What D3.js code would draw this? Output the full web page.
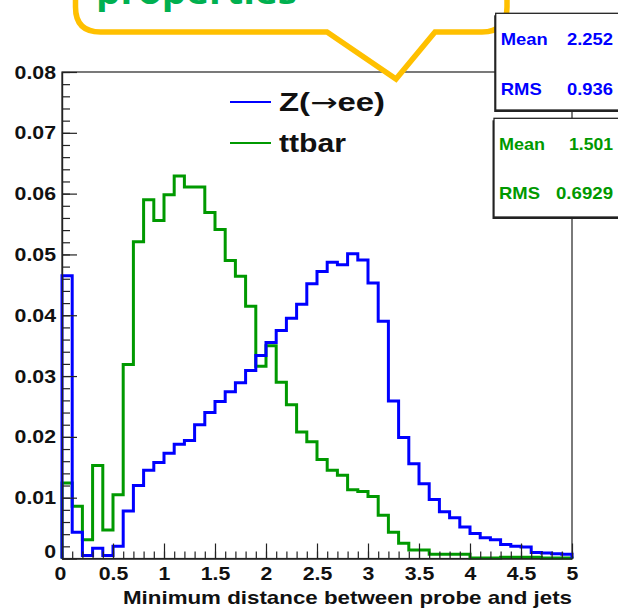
<!DOCTYPE html>
<html><head><meta charset="utf-8">
<script src="https://cdn.jsdelivr.net/npm/d3@7"></script>
<style>
html,body{margin:0;padding:0;background:#fff;}
svg{display:block;font-family:"Liberation Sans",Arial,sans-serif;}
</style></head>
<body>
<svg id="chart" width="618" height="612"></svg>
<script>
// ---------- data ----------
const binEdgesStart = 0, binWidth = 0.1;
const zeeValues = [0.0465,0.0043,0.0005,0.0017,0.0005,0.002,0.0078,0.012,0.0145,0.0158,
  0.0173,0.0188,0.0194,0.022,0.024,0.0258,0.0274,0.0289,0.0309,0.0334,
  0.0355,0.0375,0.0395,0.0418,0.0452,0.0472,0.0487,0.0483,0.0501,0.0491,
  0.0453,0.039,0.0259,0.0199,0.0156,0.0123,0.0097,0.0077,0.0067,0.0052,
  0.0041,0.0034,0.0031,0.0023,0.002,0.0019,0.001,0.0009,0.0008,0.0007];
const ttbarValues = [0.0124,0.0086,0.0031,0.0153,0.0047,0.0105,0.0319,0.0521,0.059,0.0556,
  0.0598,0.0629,0.0611,0.0611,0.0569,0.0541,0.049,0.0464,0.0415,0.0316,
  0.035,0.029,0.0253,0.0208,0.0192,0.0163,0.0145,0.0137,0.0113,0.011,
  0.0102,0.0071,0.0043,0.0025,0.0014,0.0014,0.0007,0.0007,0.0007,0.0007,
  0.0001,0.0001,0.0001,0.0002,0.0002,0.0002,0.0002,0.0001,0.0001,0.0001];
const seriesNames = [["Z(", "\u2192", "ee)"], ["ttbar"]];
const seriesColors = ["#0000ff", "#009900"];
const statLabels = ["Mean", "RMS"];
const zeeStats = ["2.252", "0.936"];
const ttbarStats = ["1.501", "0.6929"];
const xTicks = [0,0.5,1,1.5,2,2.5,3,3.5,4,4.5,5];
const yTicks = [0,0.01,0.02,0.03,0.04,0.05,0.06,0.07,0.08];
const xTitle = "Minimum distance between probe and jets";
const calloutText = "properties";

// ---------- layout ----------
const svg = d3.select("#chart");
const x = d3.scaleLinear().domain([0,5]).range([62,572]);
const y = d3.scaleLinear().domain([0,0.08]).range([558.5,72]);
const SX = 1.12;

// frame
svg.append("rect").attr("x",62).attr("y",72).attr("width",510).attr("height",486.5)
  .attr("fill","none").attr("stroke","#222").attr("stroke-width",1.2);

// histograms
function histPoints(vals){
  const pts = [[0,0]];
  vals.forEach((v,i)=>{ pts.push([binEdgesStart+i*binWidth, v]); });
  pts.push([binEdgesStart+vals.length*binWidth, vals[vals.length-1]]);
  pts.push([binEdgesStart+vals.length*binWidth, 0]);
  return pts;
}
const line = d3.line().x(d=>x(d[0])).y(d=>y(d[1])).curve(d3.curveStepAfter);
[ttbarValues, zeeValues].forEach((vals,k)=>{
  svg.append("path").attr("d", line(histPoints(vals)))
    .attr("fill","none").attr("stroke", k===0?seriesColors[1]:seriesColors[0])
    .attr("stroke-width",3).attr("stroke-linejoin","miter");
});

// axes
const yMinor = d3.range(0,0.0801,0.002);
svg.append("g").attr("transform","translate(62,0)")
  .call(d3.axisLeft(y).tickValues(yMinor).tickSizeInner(-8).tickSizeOuter(0).tickFormat(""))
  .call(g=>g.select(".domain").remove())
  .call(g=>g.selectAll("line").attr("stroke","#222").attr("stroke-width",1.2));
const yAx = svg.append("g").attr("transform","translate(62,0)")
  .call(d3.axisLeft(y).tickValues(yTicks).tickSizeInner(-15).tickSizeOuter(0).tickPadding(6)
    .tickFormat(d3.format("~g")));
yAx.select(".domain").attr("stroke","#222").attr("stroke-width",1.4);
yAx.selectAll("line").attr("stroke","#222").attr("stroke-width",1.2);
yAx.selectAll("text").attr("font-size",19).attr("font-weight","bold").attr("fill","#111")
  .attr("font-family","Liberation Sans, Arial, sans-serif")
  .attr("transform",function(){const xx=+d3.select(this).attr("x");return `translate(${xx},0) scale(${SX},1) translate(${-xx},0)`;});
yAx.selectAll(".tick").filter(d=>d===0).select("text").attr("dy","-0.05em");

const xMinor = d3.range(0,5.001,0.1);
svg.append("g").attr("transform","translate(0,558.5)")
  .call(d3.axisBottom(x).tickValues(xMinor).tickSizeInner(-7).tickSizeOuter(0).tickFormat(""))
  .call(g=>g.select(".domain").remove())
  .call(g=>g.selectAll("line").attr("stroke","#222").attr("stroke-width",1.2));
const xAx = svg.append("g").attr("transform","translate(0,558.5)")
  .call(d3.axisBottom(x).tickValues(xTicks).tickSizeInner(-15).tickSizeOuter(0).tickPadding(8)
    .tickFormat(d3.format("~g")));
xAx.select(".domain").attr("stroke","#222").attr("stroke-width",1.6);
xAx.selectAll("line").attr("stroke","#222").attr("stroke-width",1.2);
xAx.selectAll("text").attr("font-size",19).attr("font-weight","bold").attr("fill","#111")
  .attr("font-family","Liberation Sans, Arial, sans-serif")
  .attr("transform",`scale(${SX},1)`);
xAx.selectAll(".tick").filter(d=>d===0).select("text").attr("dx","-0.1em");

// x title
svg.append("text").attr("x",572).attr("y",604).attr("text-anchor","end")
  .attr("font-size",19).attr("font-weight","bold").attr("fill","#111")
  .attr("textLength",449).attr("lengthAdjust","spacingAndGlyphs").text(xTitle);

// legend
const legY = [102,143];
const legW = [106,67];
seriesNames.forEach((parts,i)=>{
  svg.append("line").attr("x1",230).attr("x2",271).attr("y1",legY[i]).attr("y2",legY[i])
    .attr("stroke",seriesColors[i]).attr("stroke-width",2);
  const t = svg.append("text").attr("x",279).attr("y",legY[i]+9).attr("font-size",25).attr("font-weight","bold")
    .attr("fill","#111").attr("textLength",legW[i]).attr("lengthAdjust","spacingAndGlyphs");
  parts.forEach(p=>{
    const ts = t.append("tspan").text(p);
    if (p === "\u2192") ts.attr("font-family","DejaVu Sans, sans-serif").attr("font-weight","normal");
  });
});

// callout
const cp = d3.path();
const L=75.5, R=507, B=32, T=-60, r=25;
cp.moveTo(L, T);
cp.lineTo(L, B-r);
cp.quadraticCurveTo(L, B, L+r, B);
cp.lineTo(327, B);
cp.lineTo(396, 79);
cp.lineTo(435, B);
cp.lineTo(R-r, B);
cp.quadraticCurveTo(R, B, R, B-r);
cp.lineTo(R, T);
svg.append("path").attr("d",cp.toString()).attr("fill","#fff").attr("stroke","#ffc000")
  .attr("stroke-width",5.5).attr("stroke-linejoin","miter");
svg.append("text").attr("x",96).attr("y",4).attr("font-family","Open Sans, sans-serif")
  .attr("font-size",34).attr("font-weight","bold").attr("fill","#00b050")
  .attr("textLength",201).attr("lengthAdjust","spacingAndGlyphs").text(calloutText);

// stat boxes
const boxes = [
  {y0:13.3, y1:110, color:seriesColors[0], vals:zeeStats, x0:495.7, base:[45,95], lw:[47,41], vw:[46,46]},
  {y0:118.3, y1:217, color:seriesColors[1], vals:ttbarStats, x0:494, base:[150,199], lw:[46,41], vw:[44,57]}
];
boxes.forEach(b=>{
  svg.append("rect").attr("x",b.x0-1.5).attr("y",b.y0+2).attr("width",140).attr("height",b.y1-b.y0)
    .attr("fill","#222");
  svg.append("rect").attr("x",b.x0).attr("y",b.y0).attr("width",140).attr("height",b.y1-b.y0)
    .attr("fill","#fff").attr("stroke","#222").attr("stroke-width",1.3);
  statLabels.forEach((lab,i)=>{
    svg.append("text").attr("x",b.x0+5).attr("y",b.base[i]).attr("font-size",17).attr("font-weight","bold")
      .attr("fill",b.color).attr("textLength",b.lw[i]).attr("lengthAdjust","spacingAndGlyphs").text(lab);
    svg.append("text").attr("x",613).attr("y",b.base[i]).attr("text-anchor","end").attr("font-size",17)
      .attr("font-weight","bold").attr("fill",b.color).attr("textLength",b.vw[i])
      .attr("lengthAdjust","spacingAndGlyphs").text(b.vals[i]);
  });
});
</script>
</body></html>
